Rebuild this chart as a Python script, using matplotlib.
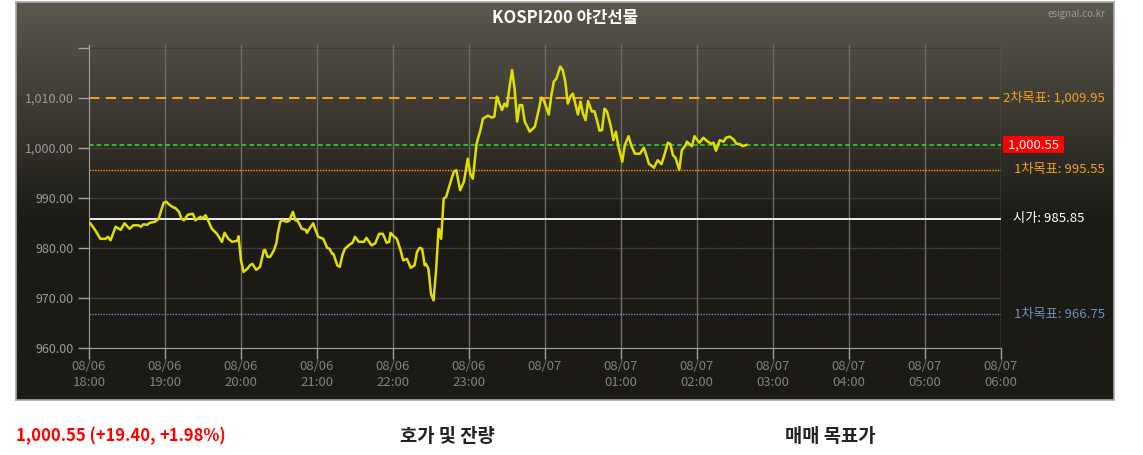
import numpy as np
import matplotlib
matplotlib.use('Agg')
import matplotlib.pyplot as plt
from matplotlib.ticker import FuncFormatter

plt.rcParams['font.family'] = ['Noto Sans CJK KR', 'DejaVu Sans']

# minutes after 08/06 18:00, KOSPI200 night futures price
minutes = [1, 5, 9, 13, 15, 17, 21, 25, 28, 32, 35, 39, 41, 43, 46, 48, 52, 55, 57, 59,
           61, 64, 67, 68, 71, 73, 75, 78, 82, 84, 88, 89, 92, 94, 97, 101, 105, 107, 110, 113,
           117, 118, 120, 122, 125, 127, 129, 132, 135, 138, 139, 141, 143, 146, 148, 149, 151, 153, 156, 158,
           161, 163, 165, 168, 171, 172, 175, 177, 178, 181, 185, 188, 190, 192, 193, 196, 198, 200, 202, 206,
           208, 210, 213, 217, 219, 223, 226, 229, 232, 235, 237, 238, 241, 243, 246, 248, 251, 254, 257, 259,
           261, 263, 265, 266, 268, 270, 272, 274, 276, 278, 280, 282, 285, 288, 290, 293, 296, 299, 301, 303,
           306, 309, 311, 315, 318, 320, 322, 326, 328, 330, 332, 334, 336, 338, 340, 342, 344, 348, 352, 355,
           357, 359, 363, 365, 367, 369, 372, 374, 376, 378, 380, 382, 386, 388, 390, 392, 394, 397, 399, 401,
           403, 405, 407, 409, 412, 414, 416, 418, 421, 423, 426, 428, 431, 435, 438, 440, 442, 446, 449, 452,
           455, 457, 459, 461, 463, 466, 468, 471, 472, 475, 476, 478, 480, 482, 485, 488, 491, 493, 495, 498,
           501, 503, 506, 509, 511, 514, 516, 519]
prices = [984.9, 983.5, 981.8, 981.8, 982.2, 981.5, 984.2, 983.6, 984.9, 983.8, 984.5, 984.5, 984.2, 984.7, 984.6, 985.0, 985.2, 985.8, 987.5, 989.0,
          989.2, 988.5, 988.0, 988.0, 987.2, 985.8, 985.5, 986.6, 986.8, 985.5, 986.2, 985.8, 986.5, 985.5, 983.8, 982.8, 981.2, 983.0, 981.8, 981.2,
          981.4, 982.3, 977.5, 975.2, 975.8, 976.5, 976.8, 975.6, 976.2, 979.5, 979.6, 978.2, 978.2, 979.5, 981.0, 982.8, 985.2, 985.5, 985.2, 985.4,
          987.2, 985.5, 985.3, 983.8, 983.6, 983.0, 984.2, 984.9, 984.1, 982.2, 981.8, 980.0, 979.8, 978.8, 978.8, 976.5, 976.2, 978.5, 979.8, 980.7,
          981.0, 982.2, 981.2, 981.2, 982.0, 980.5, 980.9, 982.8, 982.8, 981.0, 981.2, 983.0, 982.2, 981.8, 979.5, 977.5, 977.8, 976.0, 976.5, 979.2,
          980.0, 979.8, 976.5, 976.8, 975.8, 970.8, 969.5, 975.5, 983.8, 981.8, 989.8, 990.2, 992.8, 995.2, 995.5, 991.5, 993.2, 997.8, 994.8, 993.8,
          1000.8, 1003.5, 1005.8, 1006.4, 1006.0, 1006.2, 1010.2, 1007.5, 1008.8, 1008.2, 1012.2, 1015.5, 1011.8, 1005.2, 1008.5, 1008.5, 1005.2, 1003.2, 1004.2, 1007.5,
          1010.0, 1009.5, 1006.6, 1010.5, 1013.2, 1013.8, 1016.2, 1015.5, 1013.2, 1008.8, 1010.2, 1010.8, 1006.6, 1009.2, 1006.8, 1005.5, 1009.3, 1007.2, 1007.3, 1005.5,
          1003.4, 1003.5, 1007.8, 1007.2, 1004.2, 1001.5, 1003.2, 1000.2, 997.2, 1000.5, 1002.3, 1000.5, 998.8, 998.8, 1000.0, 998.5, 996.8, 996.0, 997.5, 996.7,
          999.2, 1001.0, 1000.7, 998.5, 998.0, 995.6, 999.5, 1000.5, 1001.2, 1000.5, 1000.3, 1002.3, 1001.6, 1001.0, 1002.0, 1001.3, 1000.8, 1001.0, 999.4, 1001.5,
          1001.2, 1002.0, 1002.2, 1001.6, 1000.8, 1000.7, 1000.3, 1000.55]

hour_labels = ['08/06\n18:00', '08/06\n19:00', '08/06\n20:00', '08/06\n21:00', '08/06\n22:00',
               '08/06\n23:00', '08/07', '08/07\n01:00', '08/07\n02:00', '08/07\n03:00',
               '08/07\n04:00', '08/07\n05:00', '08/07\n06:00']
y_ticks = [960, 970, 980, 990, 1000, 1010, 1020]

target2 = 1009.95
current = 1000.55
target1 = 995.55
open_price = 985.85
stop1 = 966.75

W, H = 1143, 455
fig = plt.figure(figsize=(W / 100, H / 100), dpi=100)
fig.patch.set_facecolor('white')

# dark panel with vertical gradient
bg = fig.add_axes([16 / W, 1 - 400 / H, (1114 - 16) / W, (400 - 2) / H])
top_c = np.array([0x5b, 0x59, 0x4e]) / 255
bot_c = np.array([0x1c, 0x1a, 0x15]) / 255
t = np.clip(np.linspace(0, 1, 256) / 0.55, 0, 1)[:, None]
grad = top_c * (1 - t) + bot_c * t
bg.imshow(grad[:, None, :], aspect='auto', extent=[0, 1, 0, 1])
bg.set_xticks([])
bg.set_yticks([])
for s in bg.spines.values():
    s.set_color('#a8a8a8')
    s.set_linewidth(1.2)

ax = fig.add_axes([89 / W, 1 - 348 / H, (1001 - 89) / W, (348 - 45) / H])
ax.set_facecolor('none')
ax.set_xlim(0, 720)
ax.set_ylim(960, 1020.5)

ax.set_xticks(np.arange(0, 721, 60))
ax.set_xticklabels(hour_labels, linespacing=1.25)
ax.set_yticks(y_ticks)
ax.yaxis.set_major_formatter(FuncFormatter(lambda v, p: '' if v >= 1020 else f'{v:,.2f}'))
ax.tick_params(axis='y', colors='#a0a0a0', labelcolor='#9a9a9a', labelsize=9, length=8, width=1, pad=3)
ax.tick_params(axis='x', colors='#a0a0a0', labelcolor='#808080', labelsize=9.5, length=8, width=1, pad=1)

for v in y_ticks:
    ax.axhline(v, color='#3e3c37', lw=1, zorder=1)
for m in range(60, 721, 60):
    ax.axvline(m, color='#6e6c67', lw=1, zorder=1)

for name in ['top', 'right']:
    ax.spines[name].set_visible(False)
ax.spines['left'].set_color('#a0a0a0')
ax.spines['bottom'].set_color('#a0a0a0')

ax.axhline(target2, color='#f0a020', lw=1.5, ls=(0, (5, 3)), zorder=2)
ax.axhline(current, color='#33dd33', lw=1.1, ls=(0, (3, 2)), zorder=2)
ax.axhline(target1, color='#ff9900', lw=1, ls=(0, (1, 1)), zorder=2)
ax.axhline(open_price, color='white', lw=1.3, zorder=2)
ax.axhline(stop1, color='#6688cc', lw=1, ls=(0, (1, 1)), zorder=2)

ax.plot(minutes, prices, color='#e0e000', lw=1.8, zorder=3)

trans = ax.get_yaxis_transform()
lab_size = 9.5
ax.text(1.002, target2, f'2차목표: {target2:,.2f}', transform=trans, color='#f0a020',
        fontsize=lab_size, va='center', ha='left', clip_on=False)
ax.text(1.004, current, f' {current:,.2f} ', transform=trans, color='white',
        fontsize=lab_size, va='center', ha='left', clip_on=False,
        bbox=dict(boxstyle='square,pad=0.15', fc='#ff0000', ec='none'))
ax.text(1.014, target1, f'1차목표: {target1:,.2f}', transform=trans, color='#f0a020',
        fontsize=lab_size, va='center', ha='left', clip_on=False)
ax.text(1.013, open_price, f'시가: {open_price:,.2f}', transform=trans, color='white',
        fontsize=lab_size, va='center', ha='left', clip_on=False)
ax.text(1.014, stop1, f'1차목표: {stop1:,.2f}', transform=trans, color='#6a8fc0',
        fontsize=lab_size, va='center', ha='left', clip_on=False)

fig.text(565 / W, 1 - 18 / H, 'KOSPI200 야간선물', color='white', fontsize=12,
         fontweight='bold', ha='center', va='center')
fig.text(1105 / W, 1 - 14 / H, 'esignal.co.kr', color='#9a9a9a', fontsize=7,
         ha='right', va='center')

# bottom summary line, the percentage part in italics right after the first part
first = fig.text(16 / W, 1 - 436 / H, '1,000.55 (+19.40, ', color='#ff0000', fontsize=12,
                 fontweight='bold', ha='left', va='center')
fig.canvas.draw()
bb = first.get_window_extent(renderer=fig.canvas.get_renderer())
fig.text(bb.x1 / W, 1 - 436 / H, '+1.98%)', color='#ff0000', fontsize=12,
         fontweight='bold', style='italic', ha='left', va='center')
fig.text(447 / W, 1 - 436 / H, '호가 및 잔량', color='#222222', fontsize=13.5,
         fontweight='bold', ha='center', va='center')
fig.text(830 / W, 1 - 436 / H, '매매 목표가', color='#222222', fontsize=13.5,
         fontweight='bold', ha='center', va='center')

fig.savefig('out.png', dpi=100)
